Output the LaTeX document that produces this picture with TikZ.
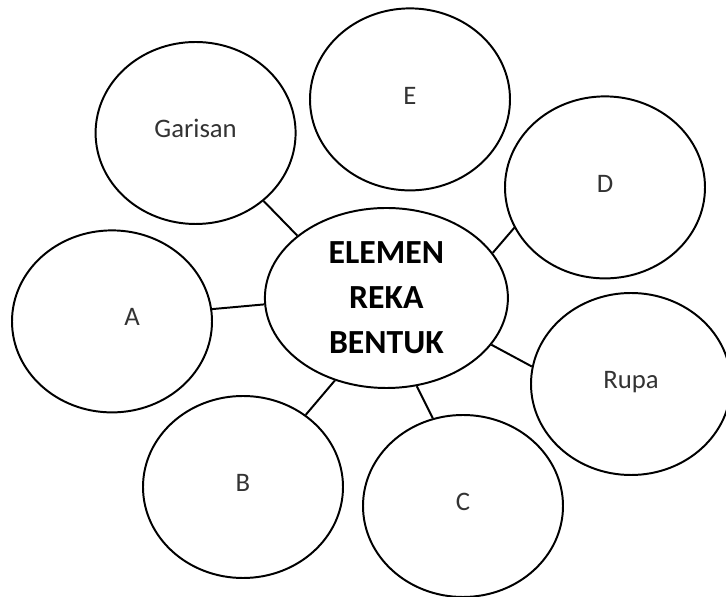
\documentclass[tikz,border=0pt]{standalone}
\usepackage{fontspec}
\setmainfont{Carlito}
\usetikzlibrary{shapes,positioning}

\tikzset{
  bulat/.style={draw,ellipse,line width=1.4pt,minimum width=5cm,minimum height=4.55cm,
    font=\fontsize{19}{22}\selectfont,text=black!80,text height=13pt,text depth=6pt},
  pusat/.style={draw,ellipse,line width=1.4pt,minimum width=6.075cm,minimum height=4.5cm,
    align=center,font=\bfseries\fontsize{24}{32}\selectfont},
  sambung/.style={line width=1.4pt}
}

\begin{document}
\begin{tikzpicture}
  \useasboundingbox (0,0) rectangle (18.15,14.925);
  % Central idea
  \path (9.66,7.475) node[pusat] (Pusat) {ELEMEN\\REKA\\BENTUK};
  % Surrounding elements
  \path (4.89,11.6) node[bulat] (Garisan) {Garisan};
  \path (10.25,12.44) node[bulat] (E) {E};
  \path (15.125,10.24) node[bulat] (D) {D};
  \path (2.8,6.89) node[bulat,label={[xshift=5mm,yshift=1mm,font=\fontsize{19}{22}\selectfont,text=black!80]center:A}] (A) {};
  \path (15.775,5.325) node[bulat] (Rupa) {Rupa};
  \path (6.075,2.75) node[bulat] (B) {B};
  \path (11.575,2.275) node[bulat] (C) {C};
  % Connect the elements to the centre
  \draw[sambung] (Garisan.315) -- (Pusat.145) (A.7) -- (Pusat.183) (B.49) -- (Pusat.238);
  \draw[sambung] (C.109) -- (Pusat.289) (Rupa.170) -- (Pusat.336) (D.204) -- (Pusat.23);
\end{tikzpicture}
\end{document}
